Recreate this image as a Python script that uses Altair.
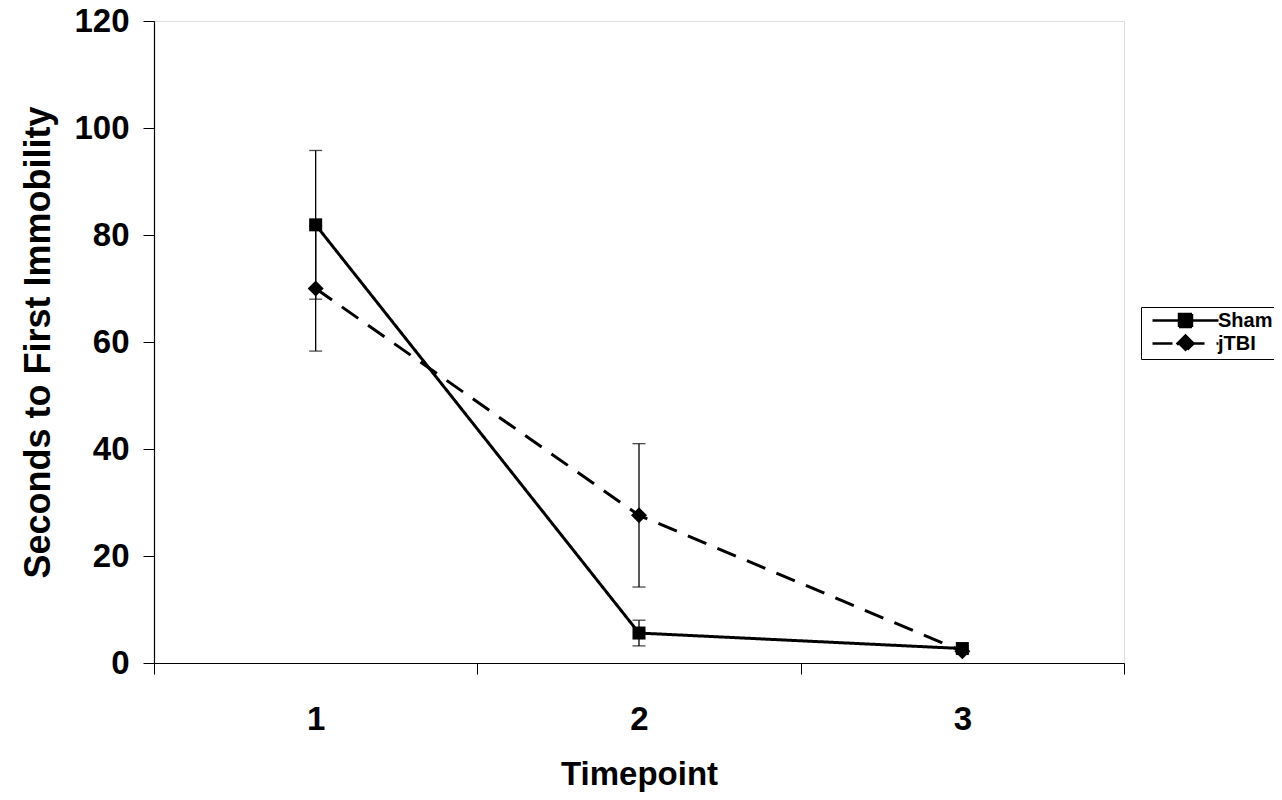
import altair as alt
import pandas as pd

timepoints = ["1", "2", "3"]
series_names = ["Sham", "jTBI"]
sham_mean = [81.9, 5.6, 2.7]
sham_err = [13.9, 2.4, 0.3]
jtbi_mean = [70.0, 27.6, 2.2]
jtbi_err = [11.7, 13.4, 0.4]
y_ticks = [0, 20, 40, 60, 80, 100, 120]

rows = []
for s, m, e in [("Sham", sham_mean, sham_err), ("jTBI", jtbi_mean, jtbi_err)]:
    for t, mv, ev in zip(timepoints, m, e):
        rows.append(dict(series=s, t=t, mean=mv, lo=mv - ev, hi=mv + ev))
df = pd.DataFrame(rows)

W, H = 970, 642
FONT = "Liberation Sans"

xscale = alt.Scale(type="band", domain=timepoints, paddingInner=0, paddingOuter=0)
yscale = alt.Scale(domain=[0, 120], nice=False)

x_axis = alt.Axis(title="Timepoint", labelAngle=0, tickBand="extent", tickSize=11,
                  tickColor="black", domainColor="black", tickWidth=1, domainWidth=1.2,
                  labelFontSize=33, labelFontWeight="bold", labelColor="black", labelPadding=29,
                  titleFontSize=33, titleFontWeight="bold", titleColor="black", titlePadding=22,
                  grid=False)
y_axis = alt.Axis(title="Seconds to First Immobility", values=y_ticks, tickSize=11,
                  tickColor="black", domainColor="black", tickWidth=1, domainWidth=1.2,
                  labelFontSize=33, labelFontWeight="bold", labelColor="black", labelPadding=14,
                  titleFontSize=36, titleFontWeight="bold", titleColor="black", titlePadding=16,
                  grid=False)

base = alt.Chart(df)

bars = base.mark_rule(color="black", strokeWidth=1.3).encode(
    x=alt.X("t:O", scale=xscale, axis=x_axis),
    y=alt.Y("lo:Q", scale=yscale, axis=y_axis),
    y2="hi:Q",
)
cap_lo = base.mark_tick(color="black", orient="horizontal", size=13, thickness=1.3).encode(
    x=alt.X("t:O", scale=xscale), y=alt.Y("lo:Q", scale=yscale))
cap_hi = base.mark_tick(color="black", orient="horizontal", size=13, thickness=1.3).encode(
    x=alt.X("t:O", scale=xscale), y=alt.Y("hi:Q", scale=yscale))

dash_scale = alt.Scale(domain=series_names, range=[[1, 0], [20, 12]])

lines = base.mark_line(color="black", strokeWidth=3).encode(
    x=alt.X("t:O", scale=xscale),
    y=alt.Y("mean:Q", scale=yscale),
    strokeDash=alt.StrokeDash("series:N", scale=dash_scale, legend=None),
)

points = base.mark_point(filled=True, color="black", opacity=1).encode(
    x=alt.X("t:O", scale=xscale),
    y=alt.Y("mean:Q", scale=yscale),
    shape=alt.Shape("series:N", scale=alt.Scale(domain=series_names, range=["square", "diamond"]),
                    legend=None),
    size=alt.Size("series:N", scale=alt.Scale(domain=series_names, range=[169, 256]), legend=None),
)

# legend-only layer (no marks drawn): each symbol combines a line and the marker
legend_paths = ["M-3.3,0H3.3M-0.65,-0.65H0.65V0.65H-0.65Z",
                "M-3.3,0H3.3M0,-0.8L0.8,0L0,0.8L-0.8,0Z"]
leg = alt.Legend(
    title=None, orient="none", legendX=987, legendY=286,
    strokeColor="black", fillColor="white", padding=2, cornerRadius=0,
    labelFont=FONT, labelFontWeight="bold", labelFontSize=20, labelColor="black",
    symbolSize=400, symbolStrokeWidth=2.5, symbolOpacity=1,
    symbolOffset=31, labelOffset=21, rowPadding=-8,
)
legend_layer = base.transform_filter("false").mark_point(
    strokeWidth=2.5, opacity=1, size=400
).encode(
    x=alt.X("t:O", scale=xscale),
    y=alt.Y("mean:Q", scale=yscale),
    shape=alt.Shape("series:N", scale=alt.Scale(domain=series_names, range=legend_paths), legend=leg),
    strokeDash=alt.StrokeDash("series:N", scale=dash_scale, legend=leg),
    fill=alt.Fill("series:N", scale=alt.Scale(domain=series_names, range=["black", "black"]), legend=leg),
    stroke=alt.Stroke("series:N", scale=alt.Scale(domain=series_names, range=["black", "black"]), legend=leg),
)

chart = alt.layer(bars, cap_lo, cap_hi, lines, points, legend_layer).resolve_scale(
    shape="independent", strokeDash="independent", size="independent",
    fill="independent", stroke="independent",
).properties(
    width=W, height=H,
    autosize=alt.AutoSizeParams(type="none"),
    padding={"left": 146, "top": 13, "right": 150, "bottom": 130},
).configure_view(stroke=None).configure(font=FONT)

chart.save("out.html", embed_options={"renderer": "svg", "actions": False})
